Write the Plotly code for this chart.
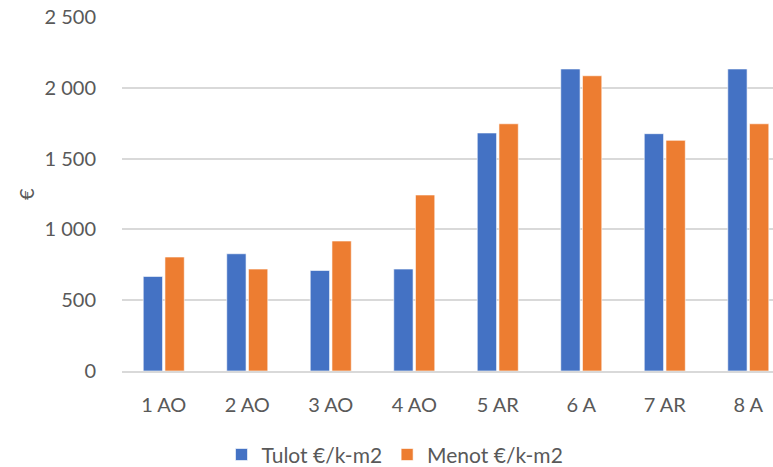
import plotly.graph_objects as go

categories = ["1 AO", "2 AO", "3 AO", "4 AO", "5 AR", "6 A", "7 AR", "8 A"]
tulot = [668, 828, 710, 720, 1681, 2133, 1676, 2133]
menot = [805, 720, 918, 1243, 1746, 2085, 1629, 1746]
y_ticks = [0, 500, 1000, 1500, 2000, 2500]
y_tick_labels = ["0", "500", "1 000", "1 500", "2 000", "2 500"]

FONT = "Lato"
TXT = "#595959"
FS = 20

fig = go.Figure()
fig.add_bar(name="Tulot €/k-m2", x=categories, y=tulot,
            marker=dict(color="#4472C4", line=dict(color="rgba(255,255,255,0.6)", width=1)))
fig.add_bar(name="Menot €/k-m2", x=categories, y=menot,
            marker=dict(color="#ED7D31", line=dict(color="rgba(255,255,255,0.6)", width=1)))

fig.update_layout(
    width=773, height=467,
    margin=dict(l=122, r=0, t=17, b=96, autoexpand=False),
    paper_bgcolor="white", plot_bgcolor="white",
    barmode="group", bargap=0.48, bargroupgap=0.11,
    font=dict(family=FONT, size=FS, color=TXT),
    showlegend=True,
    legend=dict(orientation="h", xref="container", yref="container",
                x=0.511, y=0.026, xanchor="center", yanchor="middle",
                font=dict(family=FONT, size=21, color=TXT),
                itemwidth=30, tracegroupgap=0),
    xaxis=dict(range=[-0.5, 7.296], showgrid=False, showline=True,
               linecolor="#d9d9d9", linewidth=1.5, ticks="",
               tickfont=dict(family=FONT, size=FS, color=TXT), ticklabelstandoff=15),
    yaxis=dict(range=[0, 2500], tickvals=y_ticks, ticktext=y_tick_labels,
               showgrid=True, gridcolor="#d9d9d9", gridwidth=1.5,
               zeroline=False, showline=False, ticks="",
               tickfont=dict(family=FONT, size=FS, color=TXT),
               ticklabelstandoff=25),
    annotations=[dict(text="€", xref="paper", yref="paper", x=-0.1475, y=0.5,
                      xanchor="center", yanchor="middle", textangle=-90,
                      showarrow=False, font=dict(family=FONT, size=FS, color=TXT))],
)

fig.write_html("out.html", config={"displayModeBar": False},
               post_script="document.body.style.margin='0';document.body.style.overflow='hidden';")
